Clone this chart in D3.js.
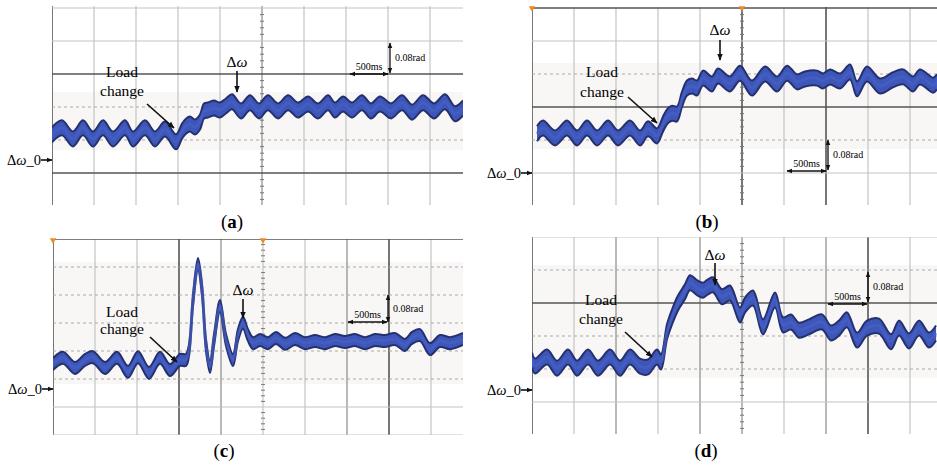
<!DOCTYPE html>
<html><head><meta charset="utf-8">
<script src="https://cdn.jsdelivr.net/npm/d3@7"></script>
<style>body{margin:0;background:#fff}svg{display:block}
.sf{font-family:"Times New Roman","Liberation Serif","DejaVu Serif",serif}</style>
</head><body>
<svg id="c" width="937" height="466"></svg>
<script>
// ---- data (time in ms, value in rad relative to Δω_0) ----
const panelNames = ["(a)", "(b)", "(c)", "(d)"];
const xTickStep = 500;      // ms per division
const yTickStep = 0.08;     // rad per division

const tA = [0,119,250,369,488,607,726,869,964,1107,1226,1345,1476,1548,1595,1643,1702,1762,1810,1857,1929,2000,2071,2143,2250,2357,2464,2571,2690,2810,2929,3048,3167,3286,3369,3464,3571,3690,3798,3905,4036,4167,4286,4417,4548,4679,4798,4893];
const vA = [0.061,0.078,0.051,0.078,0.051,0.078,0.051,0.078,0.051,0.078,0.051,0.075,0.044,0.070,0.082,0.087,0.080,0.092,0.119,0.121,0.126,0.121,0.131,0.141,0.119,0.139,0.119,0.139,0.119,0.139,0.121,0.136,0.119,0.139,0.121,0.136,0.121,0.139,0.119,0.136,0.119,0.139,0.116,0.139,0.119,0.141,0.112,0.126];

const tB = [60,131,274,417,536,655,774,905,1024,1167,1286,1381,1488,1560,1619,1667,1726,1786,1845,1905,1964,2036,2143,2214,2357,2476,2619,2774,2917,3036,3155,3250,3393,3464,3548,3667,3786,3869,3988,4143,4298,4417,4536,4619,4774,4821];
const vB = [0.095,0.109,0.085,0.109,0.085,0.109,0.085,0.109,0.085,0.109,0.085,0.107,0.090,0.119,0.139,0.145,0.143,0.179,0.206,0.211,0.206,0.230,0.216,0.235,0.216,0.242,0.206,0.240,0.216,0.242,0.221,0.228,0.230,0.223,0.233,0.223,0.245,0.204,0.240,0.211,0.226,0.233,0.216,0.233,0.213,0.221];

const tC = [0,119,262,381,476,619,762,893,1012,1143,1274,1393,1512,1583,1619,1667,1726,1774,1821,1869,1917,1988,2060,2143,2202,2262,2321,2381,2464,2560,2655,2762,2881,3000,3119,3238,3357,3476,3595,3714,3833,3952,4071,4190,4274,4369,4488,4607,4726,4881];
const vC = [0.071,0.089,0.060,0.083,0.091,0.060,0.089,0.049,0.091,0.046,0.089,0.054,0.083,0.083,0.111,0.254,0.357,0.283,0.126,0.063,0.140,0.237,0.140,0.083,0.154,0.189,0.154,0.131,0.140,0.131,0.146,0.129,0.143,0.131,0.137,0.131,0.140,0.134,0.140,0.131,0.140,0.137,0.143,0.126,0.146,0.154,0.114,0.137,0.131,0.143];

const tD = [0,36,179,298,429,536,667,786,929,1048,1167,1286,1381,1488,1536,1607,1667,1738,1821,1881,1964,2036,2095,2155,2262,2357,2476,2536,2631,2750,2893,2988,3083,3179,3298,3452,3560,3655,3750,3869,3988,4131,4274,4369,4488,4607,4726,4810];
const vD = [0.073,0.058,0.080,0.053,0.080,0.053,0.080,0.053,0.080,0.053,0.080,0.058,0.056,0.080,0.068,0.141,0.177,0.211,0.238,0.260,0.248,0.242,0.250,0.255,0.226,0.235,0.182,0.206,0.223,0.153,0.218,0.158,0.165,0.145,0.153,0.165,0.138,0.150,0.170,0.121,0.150,0.155,0.117,0.150,0.119,0.150,0.121,0.138];

const series = [
  {t: tA, v: vA}, {t: tB, v: vB}, {t: tC, v: vC}, {t: tD, v: vD}
];

// ---- layout ----
const layout = [
  {left:52, right:463, top:6, bottom:205, zeroY:160, refY:173, divX:42, divY:33, half:7.5,
   darkH:[0,3], darkV:[0], medV:[5], band:[92,150], markers:false,
   cap:[232,228], load:[122,77,96], loadArrow:[147,104,174,128], dw:[237,67,71,92],
   vs:[390,43,73], hs:[350,388,74]},
  {left:532, right:937, top:7, bottom:205, zeroY:173, refY:173, divX:42, divY:33, half:7.5,
   darkH:[2,5], darkV:[0,5,7], medV:[], band:[63,149], markers:true,
   cap:[707,228], load:[602,77,97], loadArrow:[628,97,657,123], dw:[720,35,40,60],
   vs:[828,140,170], hs:[787,826,171]},
  {left:53, right:463, top:239, bottom:435, zeroY:389, refY:379, divX:42, divY:28, half:6,
   darkH:[5], darkV:[0,3,8], medV:[4,7], band:[262,384], markers:true,
   cap:[224,457], load:[122,317,334], loadArrow:[150,337,177,362], dw:[243,295,299,318],
   vs:[388,295,322], hs:[348,387,322]},
  {left:532, right:937, top:237, bottom:434, zeroY:390, refY:402, divX:42, divY:33, half:7.5,
   darkH:[3], darkV:[0,8], medV:[2,4,5,7], band:[265,378], markers:false,
   cap:[706,457], load:[601,305,324], loadArrow:[625,332,652,357], dw:[715,260,263,285],
   vs:[868,272,302], hs:[828,867,304]}
];

const svg = d3.select("#c");
const defs = svg.append("defs");
function marker(id, size) {
  const m = defs.append("marker").attr("id", id).attr("viewBox", "0 0 10 10")
    .attr("refX", 9).attr("refY", 5).attr("markerWidth", size).attr("markerHeight", size)
    .attr("orient", "auto-start-reverse").attr("markerUnits", "userSpaceOnUse");
  m.append("path").attr("d", "M0,1 L10,5 L0,9 z").attr("fill", "#111");
}
marker("ah", 7); marker("ahs", 6);

layout.forEach((L, i) => {
  const g = svg.append("g");
  const x = d3.scaleLinear().domain([0, 5000]).range([L.left, L.left + 10 * L.divX]);
  const y = d3.scaleLinear().domain([0, yTickStep]).range([L.zeroY, L.zeroY - L.divY]);
  const clipId = "clip" + i;
  defs.append("clipPath").attr("id", clipId).append("rect")
    .attr("x", L.left).attr("y", L.top).attr("width", L.right - L.left).attr("height", L.bottom - L.top);
  const pg = g.append("g").attr("clip-path", `url(#${clipId})`);

  pg.append("rect").attr("x", L.left).attr("y", L.band[0]).attr("width", L.right - L.left)
    .attr("height", L.band[1] - L.band[0]).attr("fill", "#f8f7f5");

  const xt = d3.range(0, 5001, xTickStep);
  xt.forEach((t, k) => {
    const px = x(t);
    if (px > L.right + 0.5) return;
    const dark = L.darkV.includes(k), med = L.medV.includes(k);
    pg.append("line").attr("x1", px).attr("x2", px).attr("y1", L.top).attr("y2", L.bottom)
      .attr("stroke", dark ? "#555" : med ? "#8a8a8a" : "#c4c4c4")
      .attr("stroke-width", dark ? 1.6 : 1.2);
  });
  const vRef = y.invert(L.refY);
  const vMin = y.invert(L.bottom), vMax = y.invert(L.top);
  const kMin = Math.ceil((vMin - vRef) / yTickStep - 0.05), kMax = Math.floor((vMax - vRef) / yTickStep + 0.1);
  for (let k = kMin; k <= kMax; k++) {
    const py = y(vRef + k * yTickStep);
    const dark = L.darkH.includes(k);
    const inBand = py > L.band[0] && py < L.band[1];
    pg.append("line").attr("x1", L.left).attr("x2", L.right).attr("y1", py).attr("y2", py)
      .attr("stroke", dark ? "#555" : inBand ? "#a9a9a9" : "#c4c4c4")
      .attr("stroke-width", dark ? 1.6 : 1.2)
      .attr("stroke-dasharray", inBand && !dark ? "3,3" : null);
  }
  const cx = x(2500);
  for (let k = kMin; k <= kMax + 1; k++) {
    for (let m = 1; m < 5; m++) {
      const py = y(vRef + (k + m / 5) * yTickStep);
      if (py < L.top || py > L.bottom) continue;
      pg.append("line").attr("x1", cx - 2).attr("x2", cx + 2).attr("y1", py).attr("y2", py)
        .attr("stroke", "#777").attr("stroke-width", 1);
    }
  }
  if (L.markers) {
    [0, 2500].forEach(t => {
      g.append("path").attr("d", d3.symbol(d3.symbolTriangle, 18)())
        .attr("transform", `translate(${x(t)},${L.top + 1}) rotate(180)`).attr("fill", "#f08a1c");
    });
  }

  // waveform band: vertical noise envelope around the trace
  const s = series[i];
  const pts = s.t.map((t, j) => [t, s.v[j]]);
  const curve = d3.curveCatmullRom.alpha(0.5);
  const area = d3.area().x(d => x(d[0])).y0(d => y(d[1]) + L.half).y1(d => y(d[1]) - L.half).curve(curve);
  const top = d3.line().x(d => x(d[0])).y(d => y(d[1]) - L.half).curve(curve);
  const bot = d3.line().x(d => x(d[0])).y(d => y(d[1]) + L.half).curve(curve);
  pg.append("path").attr("d", area(pts)).attr("fill", "#3d56b8");
  [top, bot].forEach(f => pg.append("path").attr("d", f(pts)).attr("fill", "none")
    .attr("stroke", "#25306f").attr("stroke-width", 2).attr("stroke-linejoin", "round"));
  pg.append("path").attr("d", d3.line().x(d => x(d[0])).y(d => y(d[1])).curve(curve)(pts))
    .attr("fill", "none").attr("stroke", "#4763c8").attr("stroke-width", 3).attr("opacity", 0.6);

  // annotations
  g.append("text").attr("class", "sf").attr("x", L.load[0]).attr("y", L.load[1]).attr("text-anchor", "middle")
    .attr("font-size", 15.5).text("Load");
  g.append("text").attr("class", "sf").attr("x", L.load[0]).attr("y", L.load[2]).attr("text-anchor", "middle")
    .attr("font-size", 15.5).text("change");
  const la = L.loadArrow;
  g.append("line").attr("x1", la[0]).attr("y1", la[1]).attr("x2", la[2]).attr("y2", la[3])
    .attr("stroke", "#111").attr("stroke-width", 1.6).attr("marker-end", "url(#ah)");
  const dwT = g.append("text").attr("class", "sf").attr("x", L.dw[0]).attr("y", L.dw[1]).attr("text-anchor", "middle")
    .attr("font-size", 15.5);
  dwT.append("tspan").text("Δ");
  dwT.append("tspan").attr("font-style", "italic").text("ω");
  g.append("line").attr("x1", L.dw[0]).attr("x2", L.dw[0]).attr("y1", L.dw[2]).attr("y2", L.dw[3])
    .attr("stroke", "#111").attr("stroke-width", 1.6).attr("marker-end", "url(#ah)");

  g.append("line").attr("x1", L.vs[0]).attr("x2", L.vs[0]).attr("y1", L.vs[1]).attr("y2", L.vs[2])
    .attr("stroke", "#111").attr("stroke-width", 1.3)
    .attr("marker-start", "url(#ahs)").attr("marker-end", "url(#ahs)");
  g.append("text").attr("class", "sf").attr("x", L.vs[0] + 5).attr("y", (L.vs[1] + L.vs[2]) / 2 + 3)
    .attr("font-size", 10).text("0.08rad");
  g.append("line").attr("x1", L.hs[0]).attr("x2", L.hs[1]).attr("y1", L.hs[2]).attr("y2", L.hs[2])
    .attr("stroke", "#111").attr("stroke-width", 1.3)
    .attr("marker-start", "url(#ahs)").attr("marker-end", "url(#ahs)");
  g.append("text").attr("class", "sf").attr("x", (L.hs[0] + L.hs[1]) / 2).attr("y", L.hs[2] - 4).attr("text-anchor", "middle")
    .attr("font-size", 10).text("500ms");

  const w0y = y(0);
  const w0 = g.append("text").attr("class", "sf").attr("x", L.left - 11).attr("y", w0y + 4.5).attr("text-anchor", "end")
    .attr("font-size", 14.5);
  w0.append("tspan").text("Δ");
  w0.append("tspan").attr("font-style", "italic").text("ω");
  w0.append("tspan").text("_0");
  g.append("line").attr("x1", L.left - 11).attr("x2", L.left).attr("y1", w0y).attr("y2", w0y)
    .attr("stroke", "#111").attr("stroke-width", 1.6).attr("marker-end", "url(#ahs)");

  const cap = g.append("text").attr("class", "sf").attr("x", L.cap[0]).attr("y", L.cap[1]).attr("text-anchor", "middle")
    .attr("font-size", 19);
  cap.append("tspan").text("(");
  cap.append("tspan").attr("font-weight", "bold").text(panelNames[i].slice(1, 2));
  cap.append("tspan").text(")");
});
</script>
</body></html>
